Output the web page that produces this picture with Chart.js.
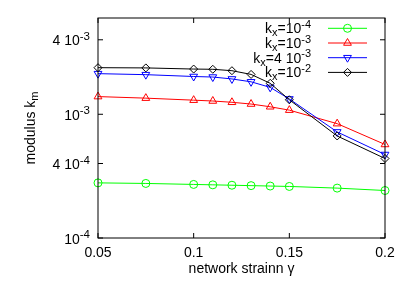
<!DOCTYPE html>
<html><head><meta charset="utf-8">
<script src="https://cdn.jsdelivr.net/npm/chart.js@4/dist/chart.umd.min.js"></script>
<style>html,body{margin:0;padding:0;background:#fff}#wrap{width:407px;height:285px}</style>
</head><body><div id="wrap"><canvas id="c" width="407" height="285"></canvas></div>
<script>
const strain = [0.05, 0.075, 0.1, 0.11, 0.12, 0.13, 0.14, 0.15, 0.175, 0.2];
const kx1e4 = [2.79e-4, 2.76e-4, 2.71e-4, 2.69e-4, 2.67e-4, 2.65e-4, 2.63e-4, 2.61e-4, 2.53e-4, 2.42e-4];
const kx1e3 = [1.39e-3, 1.35e-3, 1.30e-3, 1.28e-3, 1.25e-3, 1.21e-3, 1.15e-3, 1.08e-3, 8.4e-4, 5.7e-4];
const kx4e3 = [2.13e-3, 2.09e-3, 2.02e-3, 2.0e-3, 1.93e-3, 1.83e-3, 1.65e-3, 1.33e-3, 7.2e-4, 4.73e-4];
const kx1e2 = [2.38e-3, 2.37e-3, 2.32e-3, 2.31e-3, 2.25e-3, 2.10e-3, 1.78e-3, 1.31e-3, 6.68e-4, 4.39e-4];
const seriesLabels = ['k_x=10^{-4}', 'k_x=10^{-3}', 'k_x=4 10^{-3}', 'k_x=10^{-2}'];
const xTicks = [0.05, 0.1, 0.15, 0.2];
const xTickLabels = ['0.05', '0.1', '0.15', '0.2'];
const yTicks = [1e-4, 4e-4, 1e-3, 4e-3];
const yTickLabels = ['10^{-4}', '4 10^{-4}', '10^{-3}', '4 10^{-3}'];
const xTitle = 'network strainn \u03b3';
const yTitle = 'modulus k_m';

const FONT = '"Liberation Sans", Arial, Helvetica, sans-serif';

function parseRich(str) {
  const segs = []; let i = 0;
  while (i < str.length) {
    const c = str[i];
    if (c === '^' || c === '_') {
      let t;
      if (str[i + 1] === '{') { const j = str.indexOf('}', i); t = str.slice(i + 2, j); i = j + 1; }
      else { t = str[i + 1]; i += 2; }
      segs.push({ t, k: c === '^' ? 'sup' : 'sub' });
    } else {
      let j = i; while (j < str.length && str[j] !== '^' && str[j] !== '_') j++;
      segs.push({ t: str.slice(i, j), k: 'n' }); i = j;
    }
  }
  return segs;
}
function drawRich(ctx, str, x, y, align, base, small, supOff, subOff) {
  const segs = parseRich(str);
  let w = 0;
  for (const s of segs) { ctx.font = (s.k === 'n' ? base : small) + 'px ' + FONT; s.w = ctx.measureText(s.t).width; w += s.w; }
  let cx = align === 'right' ? x - w : align === 'center' ? x - w / 2 : x;
  ctx.textAlign = 'left'; ctx.textBaseline = 'alphabetic'; ctx.fillStyle = '#000';
  for (const s of segs) {
    ctx.font = (s.k === 'n' ? base : small) + 'px ' + FONT;
    const dy = s.k === 'sup' ? -supOff : s.k === 'sub' ? subOff : 0;
    ctx.fillText(s.t, cx, y + dy);
    cx += s.w;
  }
}
function marker(ctx, style, rot, r, x, y, color) {
  ctx.save();
  ctx.strokeStyle = color; ctx.lineWidth = 1;
  ctx.beginPath();
  if (style === 'circle') { ctx.arc(x, y, r, 0, Math.PI * 2); }
  else if (style === 'triangle') {
    const s = rot ? -1 : 1;
    ctx.moveTo(x, y - s * r);
    ctx.lineTo(x + r * Math.sin(Math.PI / 3), y + s * r * 0.5);
    ctx.lineTo(x - r * Math.sin(Math.PI / 3), y + s * r * 0.5);
    ctx.closePath();
  } else {
    ctx.moveTo(x - r, y); ctx.lineTo(x, y - r); ctx.lineTo(x + r, y); ctx.lineTo(x, y + r); ctx.closePath();
  }
  ctx.stroke();
  ctx.restore();
}

const styles = [
  { color: '#00ff00', style: 'circle', rot: 0, r: 4 },
  { color: '#ff0000', style: 'triangle', rot: 0, r: 4.5 },
  { color: '#0000ff', style: 'triangle', rot: 180, r: 4.5 },
  { color: '#000000', style: 'rectRot', rot: 0, r: 4 }
];
const values = [kx1e4, kx1e3, kx4e3, kx1e2];

const datasets = values.map((v, i) => ({
  label: seriesLabels[i],
  data: strain.map((x, j) => ({ x, y: v[j] })),
  showLine: true,
  borderColor: styles[i].color,
  borderWidth: 1,
  pointStyle: styles[i].style,
  pointRotation: styles[i].rot,
  pointRadius: styles[i].r,
  pointBorderWidth: 1,
  pointBorderColor: styles[i].color,
  pointBackgroundColor: 'rgba(0,0,0,0)',
  clip: false,
  order: 3 - i
}));

const decor = {
  id: 'decor',
  afterDatasetsDraw(chart) {
    const ctx = chart.ctx, a = chart.chartArea, xs = chart.scales.x, ys = chart.scales.y;
    ctx.save();
    ctx.strokeStyle = '#000'; ctx.lineWidth = 1;
    ctx.strokeRect(a.left, a.top, a.right - a.left, a.bottom - a.top);
    const tl = 5;
    ctx.beginPath();
    xTicks.forEach(t => {
      const px = xs.getPixelForValue(t);
      ctx.moveTo(px, a.bottom); ctx.lineTo(px, a.bottom - tl);
      ctx.moveTo(px, a.top); ctx.lineTo(px, a.top + tl);
    });
    yTicks.forEach(t => {
      const py = ys.getPixelForValue(t);
      ctx.moveTo(a.left, py); ctx.lineTo(a.left + tl, py);
      ctx.moveTo(a.right, py); ctx.lineTo(a.right - tl, py);
    });
    ctx.stroke();
    xTicks.forEach((t, i) => {
      drawRich(ctx, xTickLabels[i], xs.getPixelForValue(t), a.bottom + 18.5, 'center', 14, 11, 5, 3);
    });
    yTicks.forEach((t, i) => {
      drawRich(ctx, yTickLabels[i], a.left - 8, ys.getPixelForValue(t) + 5.5, 'right', 14, 11.5, 5.5, 3);
    });
    drawRich(ctx, xTitle, (a.left + a.right) / 2, a.bottom + 34.5, 'center', 14, 11, 5, 3);
    ctx.save();
    ctx.translate(34.5, (a.top + a.bottom) / 2);
    ctx.rotate(-Math.PI / 2);
    drawRich(ctx, yTitle, 0, 0, 'center', 14, 11, 5, 3);
    ctx.restore();
    const rows = [28.3, 43, 57.7, 72.4];
    styles.forEach((s, i) => {
      const y = rows[i];
      drawRich(ctx, seriesLabels[i], 311, y + 5, 'right', 14, 11, 5.5, 3);
      ctx.strokeStyle = s.color; ctx.lineWidth = 1;
      ctx.beginPath(); ctx.moveTo(328, y); ctx.lineTo(367, y); ctx.stroke();
      marker(ctx, s.style, s.rot, s.r, 347.5, y, s.color);
    });
    ctx.restore();
  }
};

new Chart(document.getElementById('c'), {
  type: 'scatter',
  data: { datasets },
  options: {
    responsive: false,
    animation: false,
    devicePixelRatio: 1,
    layout: { padding: { left: 98, right: 22, top: 18, bottom: 47 } },
    plugins: { legend: { display: false }, tooltip: { enabled: false } },
    scales: {
      x: { type: 'linear', display: false, min: 0.05, max: 0.2 },
      y: { type: 'logarithmic', display: false, min: 1e-4, max: 6e-3 }
    }
  },
  plugins: [decor]
});
</script>
</body></html>
